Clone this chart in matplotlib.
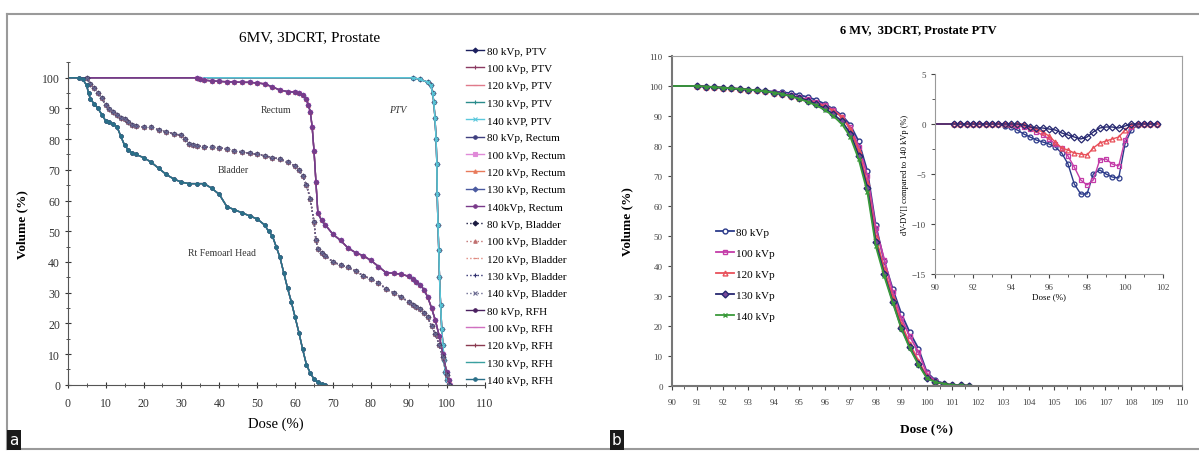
import matplotlib.pyplot as plt
from matplotlib.lines import Line2D
from matplotlib.ticker import MultipleLocator

plt.rcParams['font.family'] = ['Liberation Serif', 'DejaVu Serif']

# ---- panel a: DVH curves (dose %, volume %) ----
ptv_dose = [0, 91, 93, 95, 95.8, 96.3, 96.6, 96.9, 97.2, 97.4, 97.5, 97.7, 97.9,
            98.1, 98.4, 98.7, 99, 99.3, 99.6, 100, 100.5]
ptv_vol = [100, 100, 99.5, 98.5, 97.5, 95, 92, 87, 80, 72, 62, 52, 44,
           35, 26, 18, 13, 8, 4, 1.5, 0]

rectum_dose = [0, 34, 35, 36,
               38, 40, 42, 44, 46, 48, 50, 52, 54, 56, 58, 60,
               61, 62, 63,
               63.5, 64, 64.5, 65, 65.5, 66,
               67, 68,
               70, 72, 74, 76, 78, 80, 82, 84, 86, 88, 90,
               91, 92, 93, 94, 95, 96, 97, 98, 99, 100,
               100.5, 101]
rectum_vol = [100, 100, 99.5, 99.2,
              99, 98.8, 98.7, 98.6, 98.5, 98.5, 98.3, 98, 97, 96, 95.5, 95.3,
              95, 94.5, 93,
              91, 89, 84, 76, 66, 56,
              53.5, 52,
              49, 47, 44.5, 43, 42, 40.5, 38.5, 36.5, 36.3, 36, 35.3,
              34.5, 33.5, 32.5, 31, 28.5, 25, 21, 16, 10, 4,
              1.5, 0]

bladder_dose = [0, 5, 6, 7, 8, 9, 10,
                11, 12, 13, 14, 15, 16, 17, 18,
                20, 22, 24, 26, 28, 30,
                31, 32, 33, 34,
                36, 38, 40, 42, 44, 46, 48, 50, 52, 54, 56, 58, 60,
                61, 62, 63, 64, 65,
                65.5, 66, 67, 68,
                70, 72, 74, 76, 78, 80, 82, 84, 86, 88, 90,
                91, 92, 93, 94, 95, 96, 97, 98, 99, 100,
                100.5]
bladder_vol = [100, 100, 98, 96.5, 95, 93.5, 91,
               89.8, 89, 88, 87, 86.5, 85.5, 84.5, 84.2,
               84, 83.8, 83, 82.3, 81.8, 81.2,
               80, 78.5, 78, 77.8,
               77.6, 77.4, 77.2, 76.8, 76.2, 75.8, 75.4, 75, 74.6, 74, 73.5, 72.5, 71.3,
               70, 68, 65, 60.5, 53,
               47, 44.2, 43, 42,
               40, 39, 38.2, 37, 35.5, 34.4, 33.2, 31.2, 30, 28.5, 27,
               26, 25.3, 24.7, 23.5, 22, 19, 16.5, 13, 9, 3,
               0]

rfh_dose = [0, 3, 4, 5, 5.5, 6, 7, 8, 9, 10,
            11, 12, 13, 14, 15, 16, 17, 18,
            20, 22, 24, 26, 28, 30, 32, 34, 36, 38, 40, 42, 44, 46, 48, 50,
            52, 53, 54, 55, 56, 57, 58, 59, 60, 61, 62, 63, 64, 65, 66, 67, 68]
rfh_vol = [100, 100, 99.5, 97.5, 95, 93, 91.5, 90, 88, 86,
           85.5, 85, 84, 81, 78, 76.5, 75.5, 75,
           74, 72.5, 70.5, 68.5, 67, 66, 65.5, 65.5, 65.5, 64, 62, 58, 57, 56, 55, 54,
           52, 50, 48.5, 45, 41.5, 36.5, 31.5, 27, 22, 17, 11.5, 6.5, 3.8, 1.8, 0.8, 0.2, 0]

organ_labels = {
    'PTV': ['80 kVp, PTV', '100 kVp, PTV', '120 kVp, PTV', '130 kVp, PTV', '140 kVP, PTV'],
    'Rectum': ['80 kVp, Rectum', '100 kVp, Rectum', '120 kVp, Rectum', '130 kVp, Rectum', '140kVp, Rectum'],
    'Bladder': ['80 kVp, Bladder', '100 kVp, Bladder', '120 kVp, Bladder', '130 kVp, Bladder', '140 kVp, Bladder'],
    'RFH': ['80 kVp, RFH', '100 kVp, RFH', '120 kVp, RFH', '130 kVp, RFH', '140 kVp, RFH'],
}

# ---- panel b: PTV DVH for each kVp, dose grid in % ----
dose_b = [90, 91, 91.33, 91.67, 92, 92.33, 92.67, 93, 93.33, 93.67, 94, 94.33,
          94.67, 95, 95.33, 95.67, 96, 96.33, 96.67, 97, 97.33, 97.67, 98,
          98.33, 98.67, 99, 99.33, 99.67, 100, 100.33, 100.67, 101, 101.33, 101.67]
vol_80 = [100, 100, 99.8, 99.6, 99.4, 99.2, 99.0, 98.8, 98.5, 98.4, 98.1, 97.9,
          97.6, 97.0, 96.3, 95.3, 94.0, 92.3, 90.2, 87.0, 81.5, 71.5, 53.5,
          41.5, 32.1, 24.0, 17.8, 12.4, 4.5, 1.8, 0.7, 0.2, 0.1, 0.0]
vol_100 = [100, 100, 99.8, 99.6, 99.4, 99.2, 99.0, 98.8, 98.5, 98.2, 97.9, 97.5,
           96.9, 96.2, 95.5, 94.6, 93.5, 92.0, 89.7, 86.2, 79.8, 70.1, 52.6,
           42.1, 31.1, 22.5, 16.5, 11.2, 4.1, 1.5, 0.6, 0.2, 0.1, 0.0]
vol_120 = [100, 100, 99.8, 99.6, 99.4, 99.2, 99.0, 98.8, 98.5, 98.2, 97.8, 97.3,
           96.6, 96.0, 95.2, 94.3, 93.2, 91.8, 89.7, 85.6, 78.4, 67.5, 49.6,
           38.9, 29.4, 20.7, 14.0, 8.3, 3.1, 1.3, 0.6, 0.2, 0.1, 0.0]
vol_130 = [100, 100, 99.8, 99.6, 99.4, 99.2, 99.0, 98.8, 98.5, 98.2, 97.8, 97.3,
           96.7, 96.0, 95.1, 93.9, 92.5, 90.6, 88.2, 84.1, 76.8, 66.0, 47.8,
           37.3, 27.9, 19.3, 12.8, 7.4, 2.7, 1.2, 0.6, 0.2, 0.1, 0.0]
vol_140 = [100, 100, 99.8, 99.6, 99.4, 99.2, 99.0, 98.8, 98.5, 98.2, 97.8, 97.3,
           96.6, 95.7, 94.7, 93.5, 92.0, 90.0, 87.3, 83.0, 75.5, 64.5, 46.5,
           36.5, 27.5, 19.0, 12.5, 7.0, 2.5, 1.2, 0.6, 0.2, 0.1, 0.0]

# inset: volume difference relative to 140 kVp
dv_80 = [0, 0, 0, 0, 0, 0, 0, 0, 0, -0.2, -0.3, -0.6,
         -1.0, -1.3, -1.6, -1.8, -2.0, -2.3, -2.9, -4.0, -6.0, -7.0, -7.0,
         -5.0, -4.6, -5.0, -5.3, -5.4, -2.0, -0.6, -0.1, 0, 0, 0]
dv_100 = [0, 0, 0, 0, 0, 0, 0, 0, 0, 0, -0.1, -0.2,
          -0.3, -0.5, -0.8, -1.1, -1.5, -2.0, -2.4, -3.2, -4.3, -5.6, -6.1,
          -5.6, -3.6, -3.5, -4.0, -4.2, -1.6, -0.3, 0, 0, 0, 0]
dv_120 = [0, 0, 0, 0, 0, 0, 0, 0, 0, 0, 0, 0,
          0, -0.3, -0.5, -0.8, -1.2, -1.8, -2.4, -2.6, -2.9, -3.0, -3.1,
          -2.4, -1.9, -1.7, -1.5, -1.3, -0.6, -0.1, 0, 0, 0, 0]
dv_130 = [0, 0, 0, 0, 0, 0, 0, 0, 0, 0, 0, 0,
          -0.1, -0.3, -0.4, -0.4, -0.5, -0.6, -0.9, -1.1, -1.3, -1.5, -1.3,
          -0.8, -0.4, -0.3, -0.3, -0.4, -0.2, 0, 0, 0, 0, 0]

W, H = 1199, 456
fig = plt.figure(figsize=(W / 100, H / 100), dpi=100)

def fx(px):
    return px / W

def fy(py):
    return 1 - py / H

# outer frame lines
frame_col = '#9a9a9a'
fig.add_artist(Line2D([fx(7), fx(1199)], [fy(15), fy(15)], color=frame_col, lw=1.5))
fig.add_artist(Line2D([fx(7), fx(1199)], [fy(450), fy(450)], color=frame_col, lw=1.5))
fig.add_artist(Line2D([fx(7), fx(7)], [fy(15), fy(450)], color=frame_col, lw=1.5))

# ================= panel a =================
axa = fig.add_axes([fx(67.7), fy(385.7), fx(484.6) - fx(67.7), fy(63.4) - fy(385.7)])
axa.set_xlim(0, 110)
axa.set_ylim(0, 105)
for s in ['top', 'right']:
    axa.spines[s].set_visible(False)
for s in ['left', 'bottom']:
    axa.spines[s].set_color('#555555')
axa.xaxis.set_major_locator(MultipleLocator(10))
axa.xaxis.set_minor_locator(MultipleLocator(5))
axa.yaxis.set_major_locator(MultipleLocator(10))
axa.yaxis.set_minor_locator(MultipleLocator(5))
axa.set_yticks(range(0, 101, 10))
axa.tick_params(which='both', direction='inout', labelsize=8.5, colors='#333333')
axa.tick_params(which='major', length=4)
axa.tick_params(which='minor', length=3)
axa.tick_params(axis='x', pad=7)
axa.set_xlabel('Dose (%)', fontsize=10.5)
axa.xaxis.set_label_coords(0.5, -0.1)
axa.set_ylabel('Volume (%)', fontsize=9.5, fontweight='bold', labelpad=10)
fig.text(fx(310), fy(38), '6MV, 3DCRT, Prostate', fontsize=11, ha='center', va='center')

organ_data = [
    ('PTV', ptv_dose, ptv_vol,
     [('#1b1f5e', 'D'), ('#8b3a62', '+'), ('#e07a8a', '_'), ('#2a8c8c', '+'), ('#5bc8dc', 'x')]),
    ('Rectum', rectum_dose, rectum_vol,
     [('#404080', 'o'), ('#e08ad8', 's'), ('#e87a5a', '^'), ('#4a5aa0', 'D'), ('#7a3a8a', 'o')]),
    ('Bladder', bladder_dose, bladder_vol,
     [('#1a1a40', 'D'), ('#c07070', '^'), ('#e08a80', '_'), ('#303070', '+'), ('#6a6a90', 'x')]),
    ('RFH', rfh_dose, rfh_vol,
     [('#4a2060', 'o'), ('#d070c0', '_'), ('#8a3a50', '+'), ('#3aa0a0', '_'), ('#2a6f88', 'o')]),
]

handles_a = []
for organ, d, v, styles in organ_data:
    for (col, mk), lab in zip(styles, organ_labels[organ]):
        ls = ':' if organ == 'Bladder' else '-'
        line, = axa.plot(d, v, color=col, lw=1.0, ls=ls, marker=mk, ms=2.5,
                         mew=0.8, markevery=slice(1, None), label=lab)
        handles_a.append(line)

axa.text(55, 89.5, 'Rectum', fontsize=7, ha='center', va='center', color='#333333')
axa.text(87, 89.5, 'PTV', fontsize=7, ha='center', va='center', color='#333333', style='italic')
axa.text(43.6, 70, 'Bladder', fontsize=7, ha='center', va='center', color='#333333')
axa.text(40.8, 43.2, 'Rt Femoarl Head', fontsize=7, ha='center', va='center', color='#333333')

fig.legend(handles=handles_a, loc='upper left', bbox_to_anchor=(fx(466), fy(47)),
           frameon=False, fontsize=8, handlelength=1.6, handletextpad=0.3,
           labelspacing=0.68, borderpad=0, borderaxespad=0)

# ================= panel b =================
axb = fig.add_axes([fx(671.7), fy(386.7), fx(1182) - fx(671.7), fy(57) - fy(386.7)])
axb.set_xlim(90, 110)
axb.set_ylim(0, 110)
for s in axb.spines.values():
    s.set_color('#a0a0a0')
axb.spines['left'].set_color('#777777')
axb.spines['left'].set_linewidth(1.5)
axb.spines['bottom'].set_color('#777777')
axb.spines['bottom'].set_linewidth(1.5)
axb.xaxis.set_major_locator(MultipleLocator(1))
axb.xaxis.set_minor_locator(MultipleLocator(0.5))
axb.yaxis.set_major_locator(MultipleLocator(10))
axb.tick_params(which='both', direction='out', labelsize=6.5, colors='#444444')
axb.tick_params(which='major', length=3)
axb.tick_params(which='minor', length=2)
axb.tick_params(axis='x', pad=6)
axb.set_xlabel('Dose (%)', fontsize=9.5, fontweight='bold')
axb.xaxis.set_label_coords(0.5, -0.115)
axb.set_ylabel('Volume (%)', fontsize=9.5, fontweight='bold')
axb.yaxis.set_label_coords(-0.075, 0.5)

series_b = [
    ('80 kVp', vol_80, dv_80, '#2b3a8a', 'o', 'white'),
    ('100 kVp', vol_100, dv_100, '#c43ca8', 's', 'none'),
    ('120 kVp', vol_120, dv_120, '#e8505a', '^', 'none'),
    ('130 kVp', vol_130, dv_130, '#262870', 'D', '#7a4a9a'),
    ('140 kVp', vol_140, None, '#3a9a3a', 'x', 'none'),
]
handles_b = []
for lab, v, dv, col, mk, mfc in series_b:
    line, = axb.plot(dose_b, v, color=col, lw=1.3, marker=mk, ms=3.5, mfc=mfc,
                     mew=1.0, markevery=slice(1, None), label=lab)
    handles_b.append(line)

fig.text(fx(918), fy(30), '6 MV,  3DCRT, Prostate PTV', fontsize=9, fontweight='bold',
         ha='center', va='center')

fig.legend(handles=handles_b, loc='upper left', bbox_to_anchor=(fx(716), fy(228)),
           frameon=False, fontsize=8, handlelength=1.6, handletextpad=0.2,
           labelspacing=1.02, borderpad=0, borderaxespad=0)

# inset
axi = fig.add_axes([fx(935), fy(275), fx(1163) - fx(935), fy(75) - fy(275)])
axi.set_facecolor('none')
axi.set_xlim(90, 102)
axi.set_ylim(-15, 5)
for s in ['top', 'right']:
    axi.spines[s].set_visible(False)
for s in ['left', 'bottom']:
    axi.spines[s].set_color('#999999')
axi.xaxis.set_major_locator(MultipleLocator(2))
axi.xaxis.set_minor_locator(MultipleLocator(1))
axi.yaxis.set_major_locator(MultipleLocator(5))
axi.yaxis.set_minor_locator(MultipleLocator(2.5))
axi.tick_params(which='both', direction='out', labelsize=6.5, colors='#444444')
axi.tick_params(which='major', length=3)
axi.tick_params(which='minor', length=2)
axi.set_xlabel('Dose (%)', fontsize=6.5, labelpad=1)
axi.set_ylabel('dV-DV[] compared to 140 kVp (%)', fontsize=6, labelpad=2)
for lab, v, dv, col, mk, mfc in series_b:
    if dv is None:
        continue
    axi.plot(dose_b, dv, color=col, lw=1.0, marker=mk, ms=3.5, mfc='none',
             mew=0.9, markevery=slice(1, None))

# panel letters
fig.text(fx(9), fy(441), 'a', fontsize=11, color='white', ha='left', va='center',
         family='DejaVu Sans',
         bbox=dict(boxstyle='square,pad=0.15', facecolor='#1a1a1a', edgecolor='none'))
fig.text(fx(612), fy(441), 'b', fontsize=11, color='white', ha='left', va='center',
         family='DejaVu Sans',
         bbox=dict(boxstyle='square,pad=0.15', facecolor='#1a1a1a', edgecolor='none'))

plt.savefig('out.png', dpi=100)
